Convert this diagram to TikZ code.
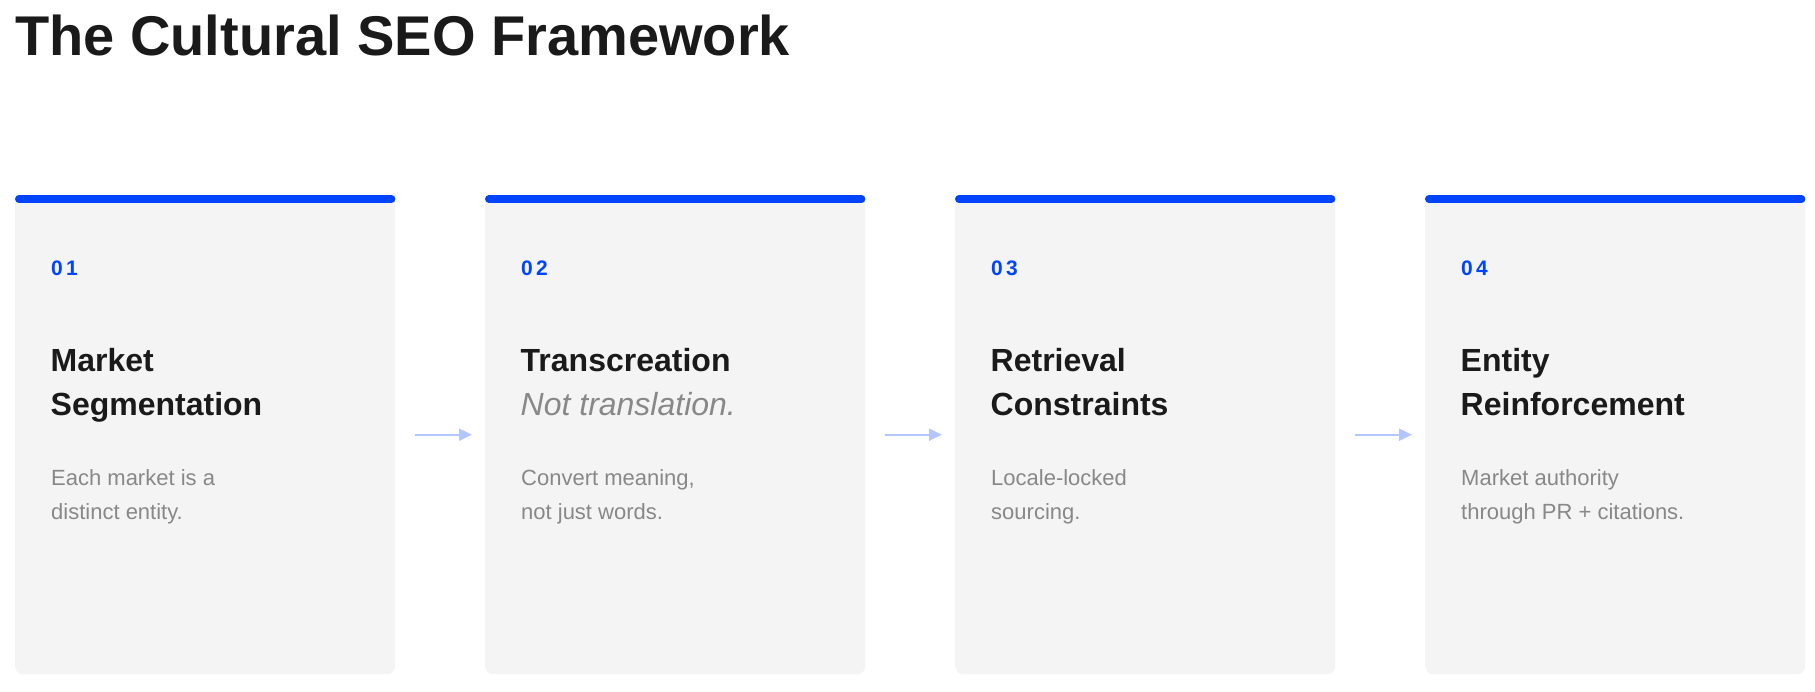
\documentclass[tikz,border=0pt]{standalone}
\usepackage{fontspec}
\setmainfont{Liberation Sans}
\usetikzlibrary{arrows.meta}
\definecolor{accent}{RGB}{0,68,255}
\definecolor{arrowc}{RGB}{179,198,255}
\definecolor{cardbg}{RGB}{244,244,244}
\definecolor{ink}{RGB}{26,26,26}
\definecolor{muted}{RGB}{136,136,136}
\tikzset{
  cardbox/.style={fill=cardbg, draw=none, rounded corners=8pt, minimum width=380pt, minimum height=479pt, inner sep=0pt, anchor=north west},
  topbar/.style={draw=accent, line width=8pt, line cap=round},
  numtxt/.style={anchor=base west, inner sep=0pt, text=accent, font=\fontsize{21}{25}\selectfont\bfseries},
  headtxt/.style={anchor=base west, inner sep=0pt, text=ink, font=\fontsize{32}{38}\selectfont\bfseries},
  subtxt/.style={anchor=base west, inner sep=0pt, text=muted, font=\fontsize{32}{38}\selectfont\itshape},
  desctxt/.style={anchor=base west, inner sep=0pt, text=muted, font=\fontsize{22}{26}\selectfont},
  titletxt/.style={anchor=base west, inner sep=0pt, text=ink, font=\fontsize{56}{64}\selectfont\bfseries},
  flow/.style={draw=arrowc, line width=2pt, -{Triangle[length=13pt,width=12pt]}},
}
\begin{document}
\begin{tikzpicture}[x=1pt,y=1pt]
\useasboundingbox[fill=white] (0,0) rectangle (1815,-691);
\node[titletxt] (title) at (15,-55) {The Cultural SEO Framework};
% cards
\foreach \i/\x in {1/15,2/485,3/955,4/1425}{
  \node[cardbox] (c\i) at (\x,-195) {};
  \draw[topbar] ([xshift=4pt,yshift=-4pt]c\i.north west) -- ([xshift=-4pt,yshift=-4pt]c\i.north east);
}
% numbers
\node[numtxt] (n1) at (50.8,-275) {0\kern3.5pt1};
\node[numtxt] (n2) at (520.8,-275) {0\kern3.5pt2};
\node[numtxt] (n3) at (990.8,-275) {0\kern3.5pt3};
\node[numtxt] (n4) at (1460.8,-275) {0\kern3.5pt4};
% headings
\node[headtxt] (h1a) at (50.5,-371.7) {Market};
\node[headtxt] (h1b) at (50.5,-415.2) {Segmentation};
\node[headtxt] (h2a) at (520.5,-371.7) {Transcreation};
\node[subtxt]  (h2b) at (520.5,-415.2) {Not translation.};
\node[headtxt] (h3a) at (990.5,-371.7) {Retrieval};
\node[headtxt] (h3b) at (990.5,-415.2) {Constraints};
\node[headtxt] (h4a) at (1460.5,-371.7) {Entity};
\node[headtxt] (h4b) at (1460.5,-415.2) {Reinforcement};
% descriptions
\node[desctxt] (d1a) at (51,-485) {Each market is a};
\node[desctxt] (d1b) at (51,-519) {distinct entity.};
\node[desctxt] (d2a) at (521,-485) {Convert meaning,};
\node[desctxt] (d2b) at (521,-519) {not just words.};
\node[desctxt] (d3a) at (991,-485) {Locale-locked};
\node[desctxt] (d3b) at (991,-519) {sourcing.};
\node[desctxt] (d4a) at (1461,-485) {Market authority};
\node[desctxt] (d4b) at (1461,-519) {through PR + citations.};
% arrows
\draw[flow] ([xshift=20pt]c1.east) -- ([xshift=-13pt]c2.west);
\draw[flow] ([xshift=20pt]c2.east) -- ([xshift=-13pt]c3.west);
\draw[flow] ([xshift=20pt]c3.east) -- ([xshift=-13pt]c4.west);
\end{tikzpicture}
\end{document}
